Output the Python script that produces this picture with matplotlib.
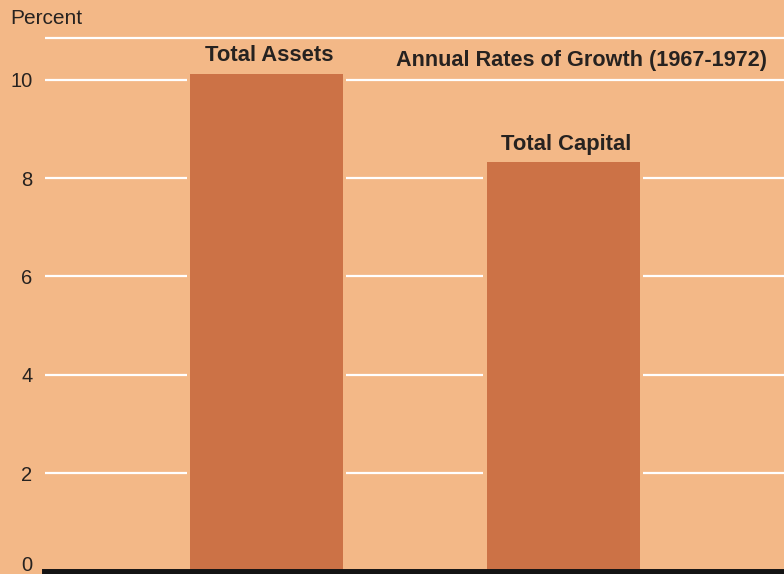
import matplotlib
matplotlib.use("Agg")
import matplotlib.pyplot as plt
from matplotlib.transforms import ScaledTranslation

plt.rcParams['font.family'] = ['Liberation Sans', 'DejaVu Sans']

# growth rates, 1967-1972
categories = ["Total Assets", "Total Capital"]
rates = [10.12, 8.32]
yticks = [0, 2, 4, 6, 8, 10]
title = "Annual Rates of Growth (1967-1972)"

bg = "#f3b887"
bar_color = "#cc7246"
ink = "#262220"

fig = plt.figure(figsize=(7.84, 5.74), dpi=100, facecolor=bg)
ax = fig.add_axes([45 / 784, 2.5 / 574, 739 / 784, 568 / 574])
ax.set_facecolor(bg)

x = list(range(len(categories)))
width = 0.516

# white rules, incl. the top frame rule
for y in yticks[1:] + [10.85]:
    ax.axhline(y, color="white", lw=1.6, zorder=1)

# background-coloured halo so the rules stop short of the bars
ax.bar(x, rates, width=width + 0.022, color=bg, zorder=2)
ax.bar(x, rates, width=width, color=bar_color, zorder=3)

for xi, v, name in zip(x, rates, categories):
    ax.text(xi + 0.01, v + 0.37, name, ha="center", va="center",
            fontsize=15.8, fontweight="bold", color=ink, zorder=4)

ax.text(0.977, 10.39, title, transform=ax.get_yaxis_transform(),
        ha="right", va="center", fontsize=15.6, fontweight="bold", color=ink)

# heavy baseline
ax.axhline(0, color="#141414", lw=5, zorder=5, clip_on=False)

ax.set_xlim(-0.747, 1.745)
ax.set_ylim(0, 568 / 49.17)
ax.set_yticks(yticks)
ax.set_xticks([])
ax.tick_params(axis="y", length=0, pad=9, labelsize=14.5, labelcolor=ink)
for s in ax.spines.values():
    s.set_visible(False)

# lift the zero label clear of the baseline
zero = ax.get_yticklabels()[0]
zero.set_transform(zero.get_transform() + ScaledTranslation(0, 6 / 72, fig.dpi_scale_trans))

fig.text(10 / 784, 1 - 18.5 / 574, "Percent", ha="left", va="center",
         fontsize=15, color=ink)

fig.savefig("out.png", dpi=100, facecolor=bg)
